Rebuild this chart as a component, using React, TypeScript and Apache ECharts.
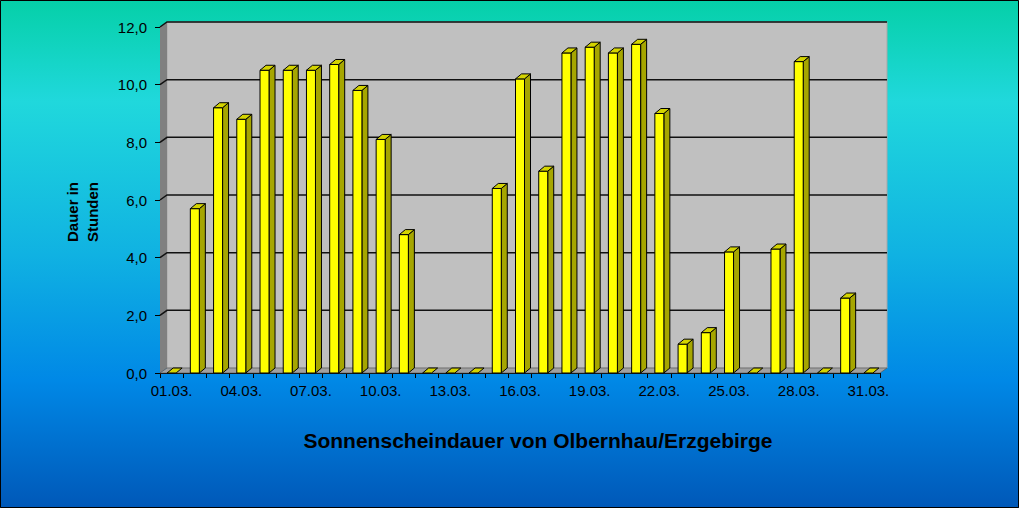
import React, { useEffect, useRef } from "react";
import * as echarts from "echarts";

const days = [
  "01.03.", "02.03.", "03.03.", "04.03.", "05.03.", "06.03.", "07.03.", "08.03.", "09.03.", "10.03.",
  "11.03.", "12.03.", "13.03.", "14.03.", "15.03.", "16.03.", "17.03.", "18.03.", "19.03.", "20.03.",
  "21.03.", "22.03.", "23.03.", "24.03.", "25.03.", "26.03.", "27.03.", "28.03.", "29.03.", "30.03.", "31.03.",
];
const sunshineHours = [
  0, 5.7, 9.2, 8.8, 10.5, 10.5, 10.5, 10.7, 9.8, 8.1,
  4.8, 0, 0, 0, 6.4, 10.2, 7.0, 11.1, 11.3, 11.1,
  11.4, 9.0, 1.0, 1.4, 4.2, 0, 4.3, 10.8, 0, 2.6, 0,
];
const yTicks = [0, 2, 4, 6, 8, 10, 12];
const chartTitle = "Sonnenscheindauer von Olbernhau/Erzgebirge";
const yAxisTitle = "Dauer in\nStunden";

const DX = 7;
const DY = 5;
const BDX = 6;
const BDY = 5;
const BW = 9;

export default function App() {
  const ref = useRef<HTMLDivElement>(null);
  useEffect(() => {
    document.body.style.margin = "0";
    if (!ref.current) return;
    const chart = echarts.init(ref.current, undefined, { renderer: "svg" });
    const yMax = yTicks[yTicks.length - 1];
    chart.setOption({
      animation: false,
      backgroundColor: {
        type: "linear",
        x: 0, y: 0, x2: 0, y2: 1,
        colorStops: [
          { offset: 0, color: "#05d0a8" },
          { offset: 0.2, color: "#20d8dc" },
          { offset: 0.5, color: "#10b2e2" },
          { offset: 0.75, color: "#0088e6" },
          { offset: 1, color: "#0058b8" },
        ],
      },
      textStyle: { fontFamily: "Liberation Sans, Arial, sans-serif" },
      grid: { left: 160, right: 139, top: 27, bottom: 135 },
      xAxis: {
        type: "category",
        data: days,
        boundaryGap: true,
        axisLine: { show: true, lineStyle: { color: "#000", width: 1 } },
        axisTick: { show: true, interval: 0, length: 5, lineStyle: { color: "#000" } },
        axisLabel: { interval: 2, color: "#000", fontSize: 15, margin: 10 },
        splitLine: { show: false },
      },
      yAxis: {
        type: "value",
        min: 0,
        max: yMax,
        interval: 2,
        axisLine: { show: true, lineStyle: { color: "#000", width: 1 } },
        axisTick: { show: true, length: 5, lineStyle: { color: "#000" } },
        axisLabel: {
          color: "#000",
          fontSize: 15,
          margin: 13,
          formatter: (v: number) => v.toFixed(1).replace(".", ","),
        },
        splitLine: { show: false },
      },
      graphic: [
        {
          type: "rect",
          shape: { x: 0.5, y: 0.5, width: 1018, height: 507 },
          style: { fill: "none", stroke: "#000", lineWidth: 1 },
          z: 100,
        },
        {
          type: "text",
          x: 82,
          y: 212,
          rotation: Math.PI / 2,
          style: {
            text: yAxisTitle,
            fill: "#000",
            font: "bold 15px 'Liberation Sans', Arial, sans-serif",
            align: "center",
            verticalAlign: "middle",
            lineHeight: 20,
          },
        },
        {
          type: "text",
          x: 538,
          y: 440,
          style: {
            text: chartTitle,
            fill: "#000",
            font: "bold 21px 'Liberation Sans', Arial, sans-serif",
            align: "center",
            verticalAlign: "middle",
          },
        },
      ],
      series: [
        {
          type: "custom",
          clip: false,
          silent: true,
          z: 1,
          data: [[0, 0]],
          encode: { x: 0, y: 1 },
          renderItem: (params: any, api: any) => {
            const cs = params.coordSys;
            const xL = cs.x;
            const xR = cs.x + cs.width;
            const y0 = api.coord([0, 0])[1];
            const yT = api.coord([0, yMax])[1];
            const children: any[] = [
              {
                type: "polygon",
                shape: { points: [[xL + DX, yT - DY], [xR + DX, yT - DY], [xR + DX, y0 - DY], [xL + DX, y0 - DY]] },
                style: { fill: "#c0c0c0", stroke: "#a8a8a8", lineWidth: 1 },
              },
              {
                type: "polygon",
                shape: { points: [[xL, yT], [xL + DX, yT - DY], [xL + DX, y0 - DY], [xL, y0]] },
                style: { fill: "#808080" },
              },
              {
                type: "polygon",
                shape: { points: [[xL, y0], [xL + DX, y0 - DY], [xR + DX, y0 - DY], [xR, y0]] },
                style: { fill: "#a0a0a0", stroke: "#505050", lineWidth: 0.6 },
              },
            ];
            yTicks.forEach((v) => {
              if (v === 0) return;
              const y = api.coord([0, v])[1];
              children.push({
                type: "polyline",
                shape: { points: [[xL, y], [xL + DX, y - DY], [xR + DX, y - DY]] },
                style: { stroke: "#111", lineWidth: 1.5, fill: null },
              });
            });
            return { type: "group", children };
          },
        },
        {
          type: "custom",
          clip: false,
          z: 3,
          data: sunshineHours.map((v, i) => [i, v]),
          encode: { x: 0, y: 1 },
          renderItem: (params: any, api: any) => {
            const idx = api.value(0);
            const val = api.value(1);
            const [x, y] = api.coord([idx, val]);
            const y0 = api.coord([idx, 0])[1];
            const l = x - BW / 2;
            const r = x + BW / 2;
            const children: any[] = [];
            if (y0 - y > 0.5) {
              children.push({
                type: "polygon",
                shape: { points: [[r, y], [r + BDX, y - BDY], [r + BDX, y0 - BDY], [r, y0]] },
                style: { fill: "#a6a600", stroke: "#000", lineWidth: 1 },
              });
              children.push({
                type: "rect",
                shape: { x: l, y, width: BW, height: y0 - y },
                style: { fill: "#ffff00", stroke: "#000", lineWidth: 1 },
              });
            }
            children.push({
              type: "polygon",
              shape: { points: [[l, y], [l + BDX, y - BDY], [r + BDX, y - BDY], [r, y]] },
              style: { fill: "#d4d400", stroke: "#000", lineWidth: 1 },
            });
            return { type: "group", children };
          },
        },
      ],
    });
    return () => chart.dispose();
  }, []);
  return <div ref={ref} style={{ width: 1019, height: 508 }} />;
}
